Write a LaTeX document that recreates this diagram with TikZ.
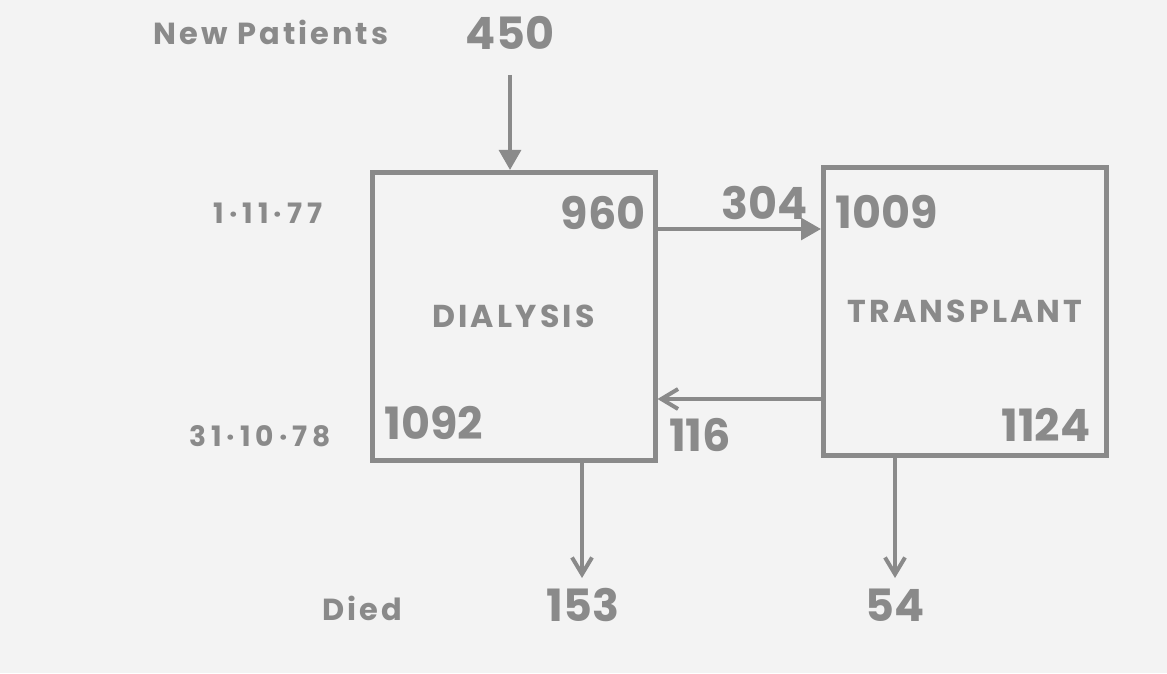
\documentclass[tikz,border=0pt]{standalone}
\usepackage{fontspec}
\setmainfont{Poppins}
\newfontfamily\widefont{Poppins}[LetterSpace=10]
\newfontfamily\datefont{Poppins}[LetterSpace=18, Numbers=Monospaced]
\usetikzlibrary{arrows.meta}
\definecolor{ink}{RGB}{138,138,138}
\definecolor{paper}{RGB}{243,243,243}
\begin{document}
\begin{tikzpicture}[x=0.3mm, y=-0.3mm,
	b/.style = {rectangle, draw=ink, line width=1.5mm, minimum width=84.9mm, minimum height=86.4mm, text=ink, font=\widefont\fontsize{27}{30}\selectfont\bfseries},
	n/.style = {text=ink, inner sep=0, font=\fontsize{38}{40}\selectfont\bfseries},
	l/.style = {text=ink, inner sep=0, font=\widefont\fontsize{26}{30}\selectfont\bfseries},
	d/.style = {text=ink, inner sep=0, font=\datefont\fontsize{24}{28}\selectfont\bfseries},
	r/.style = {-{Triangle[length=6mm, width=6.5mm]}, draw=ink, line width=1.2mm},
	v/.style = {-{Straight Barb[length=5mm, width=6mm]}, draw=ink, line width=1.2mm}
	]
	
	%Background
	\fill[paper] (0, 0) rectangle (1167, 673);
	
	%Boxes
	\node[b]	(dia)	at	(513.5, 316.5)	{DIALYSIS};
	\node[b]	(tra)	at	(965, 311.5)	{TRANSPLANT};
	
	%Numbers
	\node[n]	(new)	at	(510, 33)	{450};
	\node[n]	(d1)	at	(603, 213)	{960};
	\node[n]	(d2)	at	(434, 423)	{1092};
	\node[n]	(t1)	at	(887, 212)	{1009};
	\node[n]	(t2)	at	(1046, 425)	{1124};
	\node[n]	(x1)	at	(765, 203)	{304};
	\node[n]	(x2)	at	(700, 435)	{116};
	\node[n]	(died1)	at	(583, 605)	{153};
	\node[n]	(died2)	at	(895, 605)	{54};
	
	%Labels
	\node[l]	(lnew)	at	(271, 32)	{New Patients};
	\node[l]	(ldied)	at	(362, 608)	{Died};
	\node[d]	(start)	at	(268, 213)	{1·11·77};
	\node[d]	(end)	at	(260, 436)	{31·10·78};
	
	%Lines
	\coordinate	(p304)	at	(660, 229);
	\coordinate	(p116)	at	(660, 399);
	\coordinate	(ddia)	at	(582, 578);
	\coordinate	(dtra)	at	(895, 578);
	\draw[r]	(new.south)	++(0, 25)	--	(new.south |- dia.north);
	\draw[r]	(dia.east |- p304)	--	(tra.west |- p304);
	\draw[v]	(tra.west |- p116)	--	(dia.east |- p116);
	\draw[v]	(ddia |- dia.south)	--	(ddia);
	\draw[v]	(dtra |- tra.south)	--	(dtra);
\end{tikzpicture}
\end{document}
